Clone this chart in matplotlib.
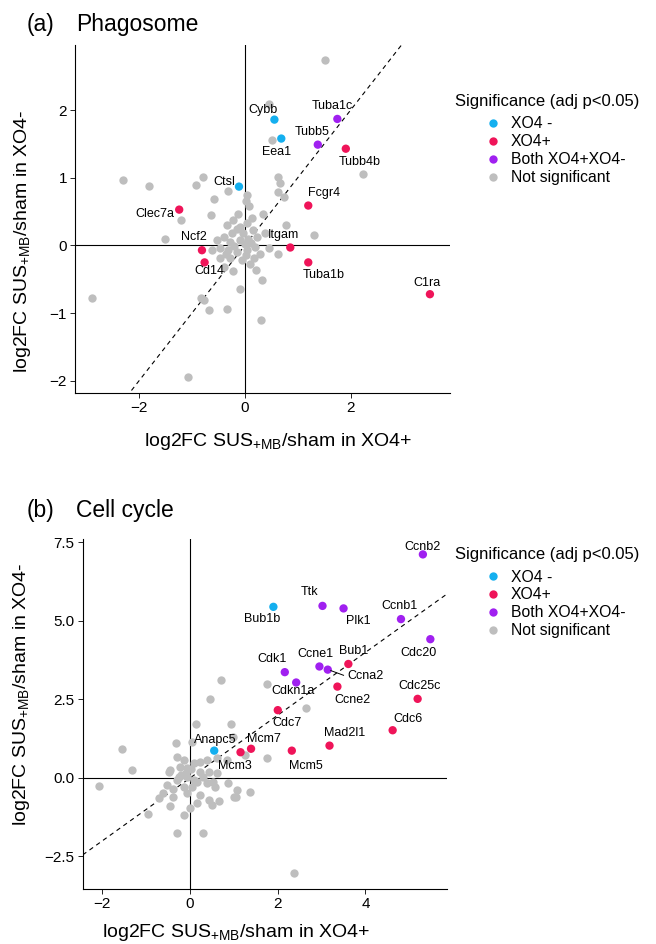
import numpy as np
import matplotlib
matplotlib.use("Agg")
import matplotlib.pyplot as plt
from matplotlib.lines import Line2D

plt.rcParams['font.family'] = ['Liberation Sans', 'DejaVu Sans']

# colours per significance group
colores = {"XO4 -": "#14AFEF", "XO4+": "#EF1459", "Both XO4+XO4-": "#A020F0", "Not significant": "#BEBEBE"}

# ---- (a) Phagosome ----
pha_gen = ["Cybb", "Eea1", "Ctsl", "Tubb4b", "Fcgr4", "Clec7a", "Ncf2", "Cd14", "Itgam",
           "Tuba1b", "C1ra", "Tuba1c", "Tubb5"]
pha_x = [0.56, 0.69, -0.11, 1.91, 1.20, -1.24, -0.81, -0.76, 0.86, 1.20, 3.50, 1.75, 1.38]
pha_y = [1.86, 1.58, 0.87, 1.43, 0.59, 0.53, -0.07, -0.25, -0.03, -0.25, -0.72, 1.87, 1.49]
pha_grupo = ["XO4 -", "XO4 -", "XO4 -", "XO4+", "XO4+", "XO4+", "XO4+", "XO4+", "XO4+",
             "XO4+", "XO4+", "Both XO4+XO4-", "Both XO4+XO4-"]

pha_ns_x = [1.51, 0.46, 0.51, 2.24, -2.31, -1.82, -0.79, -0.92, -0.31, 0.62, 0.67, 0.63, 0.74,
            0.05, -0.59, 0.02, 0.08, -1.20, -0.64, 0.35, 0.78, 1.31, -1.50, 0.62, 0.45, -0.22,
            0.22, 0.32, -0.09, -2.89, -0.83, -0.78, -0.67, -0.34, 0.30, -1.07,
            -0.34, -0.22, -0.09, 0.04, 0.13, -0.25, -0.03, 0.16, -0.53, -0.40, -0.28, -0.09,
            0.07, 0.23, 0.38, -0.62, -0.47, -0.31, -0.15, 0.04, 0.19, 0.29, -0.47, -0.28,
            -0.06, 0.10, -0.40,
            -0.12, 0.00, -0.20, 0.12, -0.36, 0.02, -0.14, 0.18]
pha_ns_y = [2.74, 2.09, 1.56, 1.06, 0.97, 0.88, 1.01, 0.90, 0.81, 1.01, 0.92, 0.79, 0.72,
            0.74, 0.68, 0.66, 0.59, 0.38, 0.45, 0.47, 0.31, 0.15, 0.09, -0.13, -0.03, -0.38,
            -0.36, -0.51, -0.65, -0.78, -0.77, -0.81, -0.95, -0.94, -1.10, -1.95,
            0.30, 0.37, 0.28, 0.33, 0.40, 0.18, 0.18, 0.23, 0.08, 0.13, 0.05, 0.08,
            0.10, 0.13, 0.18, -0.07, -0.04, -0.07, -0.09, -0.07, -0.02, -0.12, -0.19, -0.19,
            -0.22, -0.27, -0.32,
            0.46, 0.02, -0.01, 0.03, -0.12, -0.14, 0.25, -0.18]

# ---- (b) Cell cycle ----
cc_gen = ["Bub1b", "Anapc5", "Ccnb2", "Ttk", "Plk1", "Ccnb1", "Cdc20", "Ccne1", "Ccna2",
          "Cdk1", "Cdkn1a", "Bub1", "Ccne2", "Cdc25c", "Cdc7", "Cdc6", "Mcm3", "Mcm7",
          "Mcm5", "Mad2l1"]
cc_x = [1.90, 0.55, 5.31, 3.02, 3.50, 4.81, 5.48, 2.95, 3.14, 2.16, 2.42, 3.61, 3.36, 5.19,
        2.00, 4.62, 1.15, 1.39, 2.32, 3.18]
cc_y = [5.45, 0.87, 7.12, 5.48, 5.40, 5.06, 4.42, 3.55, 3.45, 3.37, 3.04, 3.63, 2.91, 2.52,
        2.16, 1.52, 0.82, 0.93, 0.87, 1.03]
cc_grupo = ["XO4 -", "XO4 -"] + ["Both XO4+XO4-"] * 9 + ["XO4+"] * 9

cc_ns_x = [0.71, 1.75, 0.45, 2.64, 0.14, 0.93, -0.33, 0.04, 0.97, -1.56, 1.75, 1.25, -1.33,
           -2.07, -0.49, -0.70, -0.47, -0.95, -0.29, 0.30, 2.38, 0.99, 1.05, 1.36, 0.65,
           0.42, 0.15, 0.87, 0.53,
           -0.30, -0.15, -0.46, -0.23, -0.08, 0.08, 0.23, 0.38, 0.61, 0.84, 0.23, 0.42,
           0.61, -0.08, -0.30, -0.53, -0.15, 0.15, 0.38, 0.57, 1.06, -0.61, -0.38, -0.08,
           0.23, 0.49, 0.0, -0.15, 0.05, -0.20,
           -0.10, 0.10, -0.25, 0.30, 0.02, -0.40]
cc_ns_y = [3.12, 2.98, 2.53, 2.22, 1.72, 1.71, 1.12, 1.14, 1.32, 0.91, 0.63, 0.72, 0.25,
           -0.25, 0.18, -0.65, -0.89, -1.16, -1.76, -1.74, -3.02, -0.62, -0.62, -0.45, -0.72,
           -0.70, -0.79, -0.17, -0.12,
           0.68, 0.57, 0.25, 0.36, 0.31, 0.47, 0.52, 0.57, 0.63, 0.57, 0.20, 0.20,
           0.15, 0.04, -0.06, -0.22, -0.28, -0.12, -0.17, -0.28, -0.38, -0.49, -0.60, -0.49,
           -0.54, -0.86, -0.97, -1.18, -0.30, 0.10,
           0.16, -0.05, 0.02, 0.04, 0.30, -0.35]

# posiciones de las etiquetas (centro del texto)
etiq_a = {"Cybb": (0.34, 2.00), "Tuba1c": (1.66, 2.06), "Tubb5": (1.27, 1.68),
          "Eea1": (0.60, 1.38), "Tubb4b": (2.18, 1.24), "Ctsl": (-0.39, 0.94),
          "Fcgr4": (1.49, 0.78), "Clec7a": (-1.70, 0.46), "Ncf2": (-0.97, 0.12),
          "Itgam": (0.74, 0.15), "Cd14": (-0.67, -0.38), "Tuba1b": (1.50, -0.44),
          "C1ra": (3.45, -0.56)}
etiq_b = {"Ccnb2": (5.30, 7.37), "Ttk": (2.73, 5.91), "Bub1b": (1.65, 5.05),
          "Plk1": (3.83, 5.01), "Ccnb1": (4.78, 5.48), "Cdc20": (5.20, 3.99),
          "Bub1": (3.72, 4.04), "Ccne1": (2.87, 3.95), "Cdk1": (1.88, 3.78),
          "Ccna2": (3.99, 3.25), "Cdkn1a": (2.35, 2.76), "Ccne2": (3.71, 2.48),
          "Cdc25c": (5.24, 2.93), "Cdc6": (4.97, 1.88), "Cdc7": (2.20, 1.74),
          "Mad2l1": (3.53, 1.44), "Mcm7": (1.69, 1.23), "Anapc5": (0.57, 1.21),
          "Mcm3": (1.01, 0.38), "Mcm5": (2.64, 0.38)}

W, H = 656, 944
fig = plt.figure(figsize=(W / 100, H / 100), dpi=100)
ax_a = fig.add_axes([75 / W, 1 - 393 / H, 374.5 / W, 348.5 / H])
ax_b = fig.add_axes([82.7 / W, 1 - 888.5 / H, 364.3 / W, 349.8 / H])

ylab = r"log2FC SUS$_{\mathregular{+MB}}$/sham in XO4-"
xlab = r"log2FC SUS$_{\mathregular{+MB}}$/sham in XO4+"


def panel(ax, ns_x, ns_y, gx, gy, grupos, genes, etiq, xlim, ylim):
    ax.set_xlim(*xlim)
    ax.set_ylim(*ylim)
    ax.axhline(0, color="black", lw=0.8, zorder=1)
    ax.axvline(0, color="black", lw=0.8, zorder=1)
    xs = np.array(xlim)
    ax.plot(xs, xs, color="black", lw=0.8, ls=(0, (4, 3.5)), zorder=1.5)
    ax.scatter(ns_x, ns_y, s=36, color=colores["Not significant"], lw=0, zorder=2)
    cols = [colores[g] for g in grupos]
    ax.scatter(gx, gy, s=36, c=cols, lw=0, zorder=3)
    for g in genes:
        tx, ty = etiq[g]
        ax.text(tx, ty, g, fontsize=9, ha="center", va="center", zorder=4)
    for s in ["top", "right"]:
        ax.spines[s].set_visible(False)
    for s in ["left", "bottom"]:
        ax.spines[s].set_linewidth(0.8)
    ax.tick_params(direction="out", length=3.8, width=0.6, labelsize=11, pad=2)


panel(ax_a, pha_ns_x, pha_ns_y, pha_x, pha_y, pha_grupo, pha_gen, etiq_a,
      (-3.21, 3.87), (-2.18, 2.97))
ax_a.set_xticks([-2, 0, 2])
ax_a.set_yticks([-2, -1, 0, 1, 2])

panel(ax_b, cc_ns_x, cc_ns_y, cc_x, cc_y, cc_grupo, cc_gen, etiq_b,
      (-2.45, 5.86), (-3.52, 7.62))
ax_b.set_xticks([-2, 0, 2, 4])
ax_b.set_yticks([-2.5, 0, 2.5, 5, 7.5])
ax_b.set_yticklabels(["\u22122.5", "0.0", "2.5", "5.0", "7.5"])

# segmento de Ccna2
ax_b.plot([3.21, 3.50], [3.42, 3.27], color="black", lw=0.7, zorder=4)

# etiquetas de ejes
ax_a.set_xlabel(xlab, fontsize=14, va="center")
ax_a.xaxis.set_label_coords(0.542, -0.140)
ax_a.set_ylabel(ylab, fontsize=14, va="center")
ax_a.yaxis.set_label_coords(-0.139, 0.435)
ax_b.set_xlabel(xlab, fontsize=14, va="center")
ax_b.xaxis.set_label_coords(0.421, -0.127)
ax_b.set_ylabel(ylab, fontsize=14, va="center")
ax_b.yaxis.set_label_coords(-0.167, 0.556)

# titulos
fig.text(26.7 / W, 1 - 24 / H, "(a)", fontsize=16.5, va="center")
fig.text(76 / W, 1 - 24 / H, "Phagosome", fontsize=16.5, va="center")
fig.text(26.7 / W, 1 - 511 / H, "(b)", fontsize=16.5, va="center")
fig.text(76 / W, 1 - 511 / H, "Cell cycle", fontsize=16.5, va="center")

# leyendas
nombres = ["XO4 -", "XO4+", "Both XO4+XO4-", "Not significant"]
for ax, ytit in [(ax_a, 101.7), (ax_b, 555)]:
    fig.text(455 / W, 1 - ytit / H, "Significance (adj p<0.05)", fontsize=12, va="center")
    handles = [Line2D([], [], ls="", marker="o", markersize=6, markerfacecolor=colores[n],
                      markeredgewidth=0, label=n) for n in nombres]
    ax.legend(handles=handles, loc="upper left", frameon=False, fontsize=11.3,
              bbox_to_anchor=(485.4 / W, 1 - (ytit + 14.5) / H), bbox_transform=fig.transFigure,
              borderaxespad=0, borderpad=0, handlelength=1.0, handletextpad=0.6,
              labelspacing=0.19)

fig.savefig("out.png", dpi=100)
